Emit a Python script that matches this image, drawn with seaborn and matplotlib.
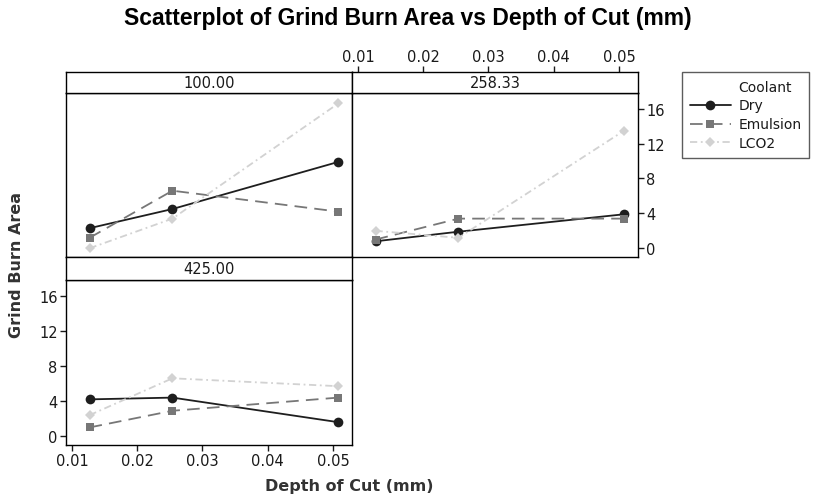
import seaborn as sns
import numpy as np
import pandas as pd
import matplotlib.pyplot as plt
from matplotlib.lines import Line2D

# values
depth = [0.0127, 0.0254, 0.0508]
coolants = ["Dry", "Emulsion", "LCO2"]
speeds = ["100.00", "258.33", "425.00"]

dry_100 = [2.3, 4.5, 9.9]
emul_100 = [1.2, 6.6, 4.2]
lco2_100 = [0.0, 3.4, 16.6]
dry_258 = [0.8, 1.9, 3.9]
emul_258 = [1.0, 3.4, 3.4]
lco2_258 = [2.0, 1.2, 13.5]
dry_425 = [4.2, 4.4, 1.6]
emul_425 = [1.0, 2.9, 4.4]
lco2_425 = [2.4, 6.6, 5.7]

rows = []
for spd, series in zip(speeds, [(dry_100, emul_100, lco2_100),
                                (dry_258, emul_258, lco2_258),
                                (dry_425, emul_425, lco2_425)]):
    for c, vals in zip(coolants, series):
        for d, v in zip(depth, vals):
            rows.append({"Speed": spd, "Coolant": c, "Depth": d, "Area": v})
data = pd.DataFrame(rows)

sns.set_style("white")
plt.rcParams["font.family"] = ["DejaVu Sans"]
plt.rcParams["text.color"] = "#1a1a1a"
plt.rcParams["xtick.color"] = "#1a1a1a"
plt.rcParams["ytick.color"] = "#1a1a1a"

palette = {"Dry": "#1e1e1e", "Emulsion": "#777777", "LCO2": "#d2d2d2"}
markers = {"Dry": "o", "Emulsion": "s", "LCO2": "D"}
dashes = {"Dry": "", "Emulsion": (7, 4), "LCO2": (4, 2, 1, 2)}
msize = {"o": 7.0, "s": 5.5, "D": 5.0}

W, H = 815.0, 502.0
def box(x0, y0, x1, y1):
    return [x0 / W, 1 - y1 / H, (x1 - x0) / W, (y1 - y0) / H]

fig = plt.figure(figsize=(8.15, 5.02), dpi=100)
ax1 = fig.add_axes(box(66, 94, 352, 258))
ax2 = fig.add_axes(box(352, 94, 638, 258))
ax3 = fig.add_axes(box(66, 281, 352, 446))
s1 = fig.add_axes(box(66, 73, 352, 94))
s2 = fig.add_axes(box(352, 73, 638, 94))
s3 = fig.add_axes(box(66, 258, 352, 281))

xlim = (0.0091, 0.0529)
ylim = (-1.0, 17.8)
xt = [0.01, 0.02, 0.03, 0.04, 0.05]
yt = [0, 4, 8, 12, 16]

for ax, spd in zip([ax1, ax2, ax3], speeds):
    sub = data[data["Speed"] == spd]
    sns.lineplot(data=sub, x="Depth", y="Area", hue="Coolant", style="Coolant",
                 palette=palette, markers=markers, dashes=dashes,
                 markeredgewidth=0, linewidth=1.3,
                 ax=ax, legend=(ax is ax1))
    for ln in ax.lines:
        m = ln.get_marker()
        if m in msize:
            ln.set_markersize(msize[m])
    ax.set_xlim(xlim)
    ax.set_ylim(ylim)
    ax.set_xlabel("")
    ax.set_ylabel("")
    for sp in ax.spines.values():
        sp.set_color("black")
        sp.set_linewidth(1.0)

handles, labels = ax1.get_legend_handles_labels()
ax1.get_legend().remove()
for h in handles:
    m = h.get_marker()
    if m in msize:
        h.set_markersize(msize[m])

# top-left panel: no ticks
ax1.set_xticks([])
ax1.set_yticks([])

# top-right panel: y axis on right
ax2.set_xticks([])
ax2.set_yticks(yt)
ax2.yaxis.tick_right()
ax2.tick_params(axis="y", direction="out", length=4, width=1, labelsize=10.5,
                left=False, right=True, pad=2)

# bottom panel: y left, x bottom
ax3.set_xticks(xt)
ax3.set_xticklabels([f"{v:.2f}" for v in xt])
ax3.set_yticks(yt)
ax3.tick_params(axis="both", direction="out", length=4, width=1, labelsize=10.5,
                bottom=True, left=True, pad=2)

# strips
for s, spd in zip([s1, s2, s3], speeds):
    s.set_xlim(xlim)
    s.set_yticks([])
    s.set_xticks([])
    s.text(0.5, 0.5, spd, transform=s.transAxes, ha="center", va="center",
           fontsize=10.5)
    for sp in s.spines.values():
        sp.set_color("black")
        sp.set_linewidth(1.0)

# top x axis above the right strip
s2.set_xticks(xt)
s2.set_xticklabels([f"{v:.2f}" for v in xt])
s2.xaxis.tick_top()
s2.tick_params(axis="x", direction="out", length=4, width=1, labelsize=10.5,
               top=True, bottom=False, pad=2)

fig.text(0.5, 1 - 18 / H, "Scatterplot of Grind Burn Area vs Depth of Cut (mm)",
         ha="center", va="center", fontsize=16.5, fontweight="bold",
         family="Liberation Sans", color="black")
fig.text(17 / W, 1 - 265 / H, "Grind Burn Area", rotation=90, ha="center",
         va="center", fontsize=11.5, fontweight="bold", color="#333333")
fig.text(349 / W, 1 - 487 / H, "Depth of Cut (mm)", ha="center", va="center",
         fontsize=11.5, fontweight="bold", color="#333333")

title_h = Line2D([], [], color="none")
leg = fig.legend([title_h] + handles, ["Coolant"] + labels,
                 loc="upper left", bbox_to_anchor=(682 / W, 1 - 73 / H),
                 frameon=True, fancybox=False, fontsize=10, handlelength=3.0,
                 handletextpad=0.5, borderpad=0.55, labelspacing=0.35,
                 borderaxespad=0)
leg.get_frame().set_edgecolor("#333333")
leg.get_frame().set_linewidth(1.0)

fig.savefig("out.png", dpi=100)
